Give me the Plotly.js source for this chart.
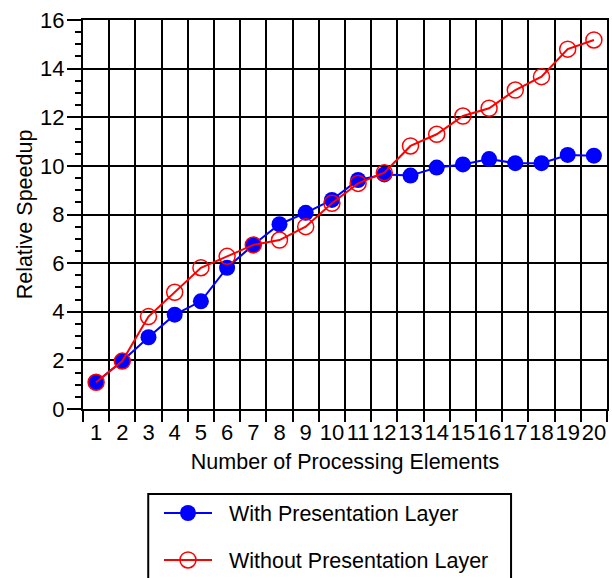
<!DOCTYPE html>
<html>
<head>
<meta charset="utf-8">
<script src="https://cdn.plot.ly/plotly-3.0.1.min.js"></script>
<style>html,body{margin:0;padding:0;background:#fff;}</style>
</head>
<body>
<div id="chart" style="width:612px;height:578px;"></div>
<script>
const processingElements = [1,2,3,4,5,6,7,8,9,10,11,12,13,14,15,16,17,18,19,20];
const withPresentation = [1.10,1.97,2.95,3.88,4.43,5.81,6.75,7.60,8.07,8.60,9.42,9.65,9.60,9.93,10.06,10.28,10.11,10.11,10.45,10.42];
const withoutPresentation = [1.10,1.97,3.80,4.80,5.81,6.28,6.75,6.95,7.50,8.46,9.28,9.72,10.82,11.30,12.05,12.37,13.12,13.67,14.80,15.18];
const boundaries = [0.5,1.5,2.5,3.5,4.5,5.5,6.5,7.5,8.5,9.5,10.5,11.5,12.5,13.5,14.5,15.5,16.5,17.5,18.5,19.5,20.5];
const seriesNames = ['With Presentation Layer', 'Without Presentation Layer'];

const FONT = 'Liberation Sans, Arial, sans-serif';
const PAD = '\u00A0\u00A0';

const traces = [
  {
    x: processingElements, y: withPresentation, type: 'scatter', mode: 'lines+markers',
    name: PAD + seriesNames[0],
    line: {color: '#0000ff', width: 2},
    marker: {symbol: 'circle', size: 16, color: '#0000ff'},
    legendgroup: 'a'
  },
  {
    x: processingElements, y: withoutPresentation, type: 'scatter', mode: 'lines+markers',
    name: PAD + seriesNames[1],
    line: {color: '#ff0000', width: 2},
    marker: {symbol: 'circle-open', size: 16, color: '#ff0000', line: {width: 1.5, color: '#ff0000'}},
    legendgroup: 'b'
  }
];

const layout = {
  width: 612, height: 578,
  margin: {l: 83, r: 5, t: 20, b: 169, autoexpand: false},
  paper_bgcolor: '#fff', plot_bgcolor: '#fff',
  font: {family: FONT, size: 21.5, color: '#000'},
  showlegend: true,
  xaxis: {
    range: [0.5, 20.5],
    tickmode: 'array', tickvals: processingElements, ticktext: processingElements.map(String),
    ticks: '', showgrid: false, zeroline: false, tickangle: 0,
    showline: true, linecolor: '#000', linewidth: 2, mirror: true,
    tickfont: {family: FONT, size: 22},
    ticklabelstandoff: 3,
    minor: {tickmode: 'array', tickvals: boundaries, ticks: 'outside', ticklen: 11, tickwidth: 2, tickcolor: '#000',
            showgrid: true, gridcolor: '#000', gridwidth: 2},
    title: {text: 'Number of Processing Elements', font: {family: FONT, size: 21.5}, standoff: 10},
    automargin: false
  },
  yaxis: {
    range: [0, 16], dtick: 2, tick0: 0,
    ticks: 'outside', ticklen: 14, tickwidth: 2, tickcolor: '#000',
    showgrid: true, gridcolor: '#000', gridwidth: 2, zeroline: false,
    showline: true, linecolor: '#000', linewidth: 2, mirror: true,
    tickfont: {family: FONT, size: 22},
    ticklabelstandoff: -2,
    minor: {dtick: 0.5, ticks: 'outside', ticklen: 6, tickwidth: 2, tickcolor: '#000', showgrid: false},
    title: {text: 'Relative Speedup', font: {family: FONT, size: 21.5}, standoff: 2},
    automargin: false
  },
  legend: {
    x: 0.145, xanchor: 'left', y: -0.2147, yanchor: 'top',
    traceorder: 'grouped', tracegroupgap: 16,
    bgcolor: 'rgba(0,0,0,0)', borderwidth: 0,
    font: {family: FONT, size: 21.5},
    itemwidth: 48
  },
  shapes: [
    {type: 'rect', xref: 'paper', yref: 'paper', x0: 0.1245, x1: 0.8169, y0: -0.2185, y1: -0.5,
     line: {color: '#000', width: 2}, fillcolor: 'rgba(0,0,0,0)'}
  ]
};

Plotly.newPlot('chart', traces, layout, {displayModeBar: false, staticPlot: true});
</script>
</body>
</html>
